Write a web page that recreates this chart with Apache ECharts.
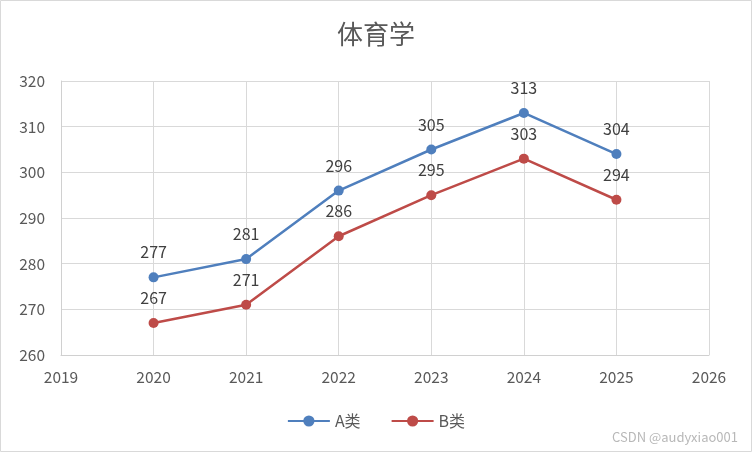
<!DOCTYPE html>
<html><head><meta charset="utf-8">
<script src="https://cdn.jsdelivr.net/npm/echarts@6/dist/echarts.min.js"></script>
<style>html,body{margin:0;padding:0;background:#fff}#c{width:752px;height:452px}</style>
</head><body><div id="c"></div>
<script>
const years = [2020, 2021, 2022, 2023, 2024, 2025];
const seriesA = [277, 281, 296, 305, 313, 304];
const seriesB = [267, 271, 286, 295, 303, 294];
const names = ['A类', 'B类'];
const title = '体育学';

const chart = echarts.init(document.getElementById('c'));
const font = '"Microsoft YaHei","Noto Sans CJK SC","Liberation Sans",sans-serif';
function mk(name, vals, color) {
  return {
    name: name, type: 'line',
    data: years.map((y, i) => [y, vals[i]]),
    symbol: 'circle', symbolSize: 10,
    lineStyle: {width: 2.5, color: color},
    itemStyle: {color: color},
    label: {show: true, position: 'top', distance: 12, color: '#404040', fontSize: 16, fontFamily: font},
    animation: false
  };
}
chart.setOption({
  animation: false,
  title: {text: title, left: 'center', top: 16, textStyle: {fontSize: 26, fontWeight: 'normal', color: '#595959', fontFamily: font}},
  grid: {left: 61, right: 43, top: 81, bottom: 97},
  legend: {bottom: 18, left: 'center', itemWidth: 42, itemHeight: 14, itemGap: 30,
    textStyle: {fontSize: 16, color: '#595959', fontFamily: font},
    data: names},
  xAxis: {type: 'value', min: 2019, max: 2026, interval: 1,
    axisLine: {show: true, lineStyle: {color: '#d0d0d0'}},
    axisTick: {show: false},
    splitLine: {show: true, lineStyle: {color: '#d9d9d9'}},
    axisLabel: {color: '#595959', fontSize: 15.5, margin: 14, fontFamily: font, formatter: v => String(v)}},
  yAxis: {type: 'value', min: 260, max: 320, interval: 10,
    axisLine: {show: true, lineStyle: {color: '#d0d0d0'}},
    axisTick: {show: false},
    splitLine: {show: true, lineStyle: {color: '#d9d9d9'}},
    axisLabel: {color: '#595959', fontSize: 15.5, margin: 16, fontFamily: font}},
  series: [mk(names[0], seriesA, '#4f7fbd'), mk(names[1], seriesB, '#be4b48')],
  graphic: [
    {type: 'rect', shape: {x: 0.5, y: 0.5, width: 751, height: 451}, style: {fill: 'none', stroke: '#d9d9d9', lineWidth: 1}, silent: true},
    {type: 'text', right: 14, bottom: 8, style: {text: 'CSDN @audyxiao001', fill: '#b8b8b8', fontSize: 13, fontFamily: font}}
  ]
});
</script></body></html>
